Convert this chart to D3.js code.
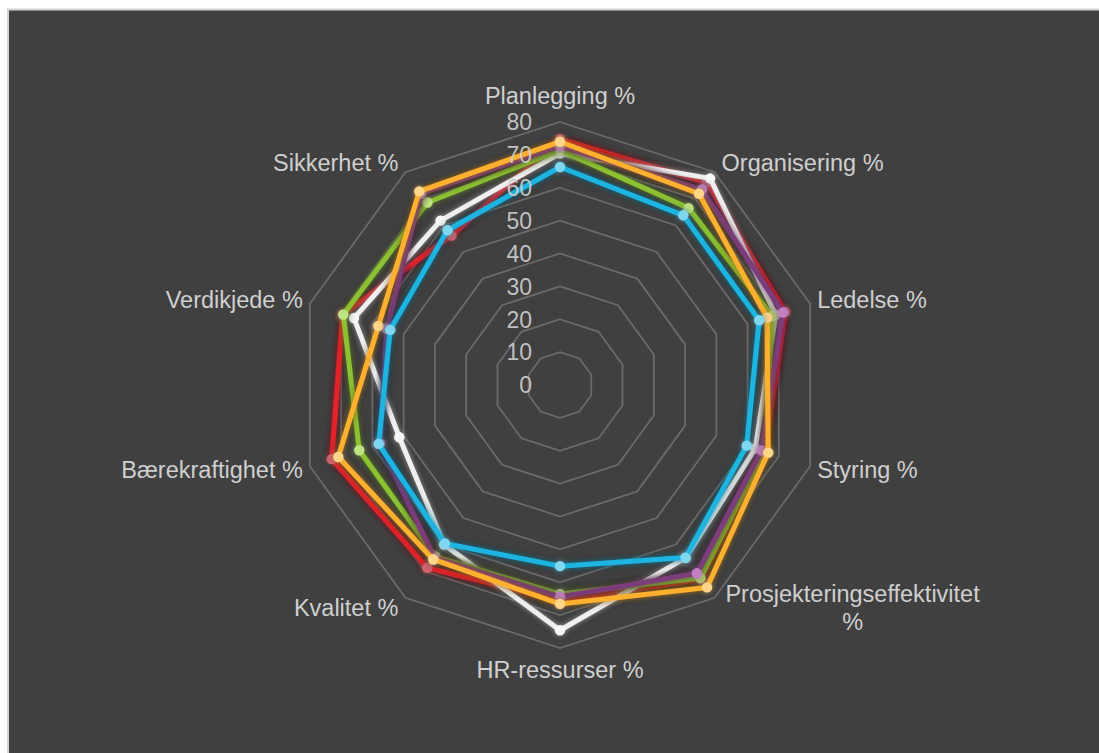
<!DOCTYPE html>
<html>
<head>
<meta charset="utf-8">
<script src="https://cdn.jsdelivr.net/npm/d3@7"></script>
<style>
  html, body { margin: 0; padding: 0; background: #ffffff; }
  svg { display: block; }
  text { font-family: "Liberation Sans", Arial, sans-serif; }
</style>
</head>
<body>
<svg id="chart" width="1099" height="753"></svg>
<script>
// Axis categories, clockwise from the top
const categories = [
  "Planlegging %", "Organisering %", "Ledelse %", "Styring %",
  "Prosjekteringseffektivitet %", "HR-ressurser %", "Kvalitet %",
  "Bærekraftighet %", "Verdikjede %", "Sikkerhet %"
];

// Radial axis tick labels
const ticks = [0, 10, 20, 30, 40, 50, 60, 70, 80];

// Series values, one per category
const seriesRed    = [74.8, 76.0, 72.0, 65.5, 73.0, 65.5, 68.7, 73.0, 69.5, 56.2];
const seriesWhite  = [70.5, 77.7, 69.0, 62.5, 65.0, 74.6, 60.0, 51.4, 65.9, 61.8];
const seriesGreen  = [71.5, 66.5, 67.8, 65.5, 72.6, 63.6, 64.5, 64.2, 69.3, 68.6];
const seriesPurple = [72.7, 73.5, 71.3, 64.5, 70.8, 64.5, 65.0, 57.6, 55.4, 72.0];
const seriesOrange = [74.0, 71.9, 66.2, 66.6, 76.1, 66.6, 65.6, 70.9, 58.1, 72.8];
const seriesBlue   = [66.3, 63.8, 63.7, 59.7, 64.9, 55.1, 59.6, 58.0, 54.3, 58.2];

// Drawing order: first entry sits at the bottom
const series = [
  { values: seriesRed,    line: "#e3222b", marker: "#d4646e" },
  { values: seriesWhite,  line: "#efefef", marker: "#f7f7f7" },
  { values: seriesGreen,  line: "#8cc230", marker: "#bde47f" },
  { values: seriesPurple, line: "#7d3d7b", marker: "#c27fc2" },
  { values: seriesOrange, line: "#ffb02e", marker: "#ffd58a" },
  { values: seriesBlue,   line: "#1fb5e2", marker: "#7dd7f0" }
];

const svg = d3.select("#chart");
const cx = 560, cy = 385, R = 263;

// Chart area
svg.append("rect")
  .attr("x", 8).attr("y", 9.5)
  .attr("width", 1100).attr("height", 760)
  .attr("fill", "#404040")
  .attr("stroke", "#d4d4d4").attr("stroke-width", 2);

// Soft shadow and glow under the series lines
const defs = svg.append("defs");
const f = defs.append("filter").attr("id", "shadow")
  .attr("x", "-20%").attr("y", "-20%").attr("width", "140%").attr("height", "140%");
f.append("feGaussianBlur").attr("in", "SourceAlpha").attr("stdDeviation", 3.5).attr("result", "blur");
f.append("feComponentTransfer").attr("in", "blur").attr("result", "shade")
  .append("feFuncA").attr("type", "linear").attr("slope", 0.85);
f.append("feGaussianBlur").attr("in", "SourceGraphic").attr("stdDeviation", 2.5).attr("result", "glow");
f.append("feComponentTransfer").attr("in", "glow").attr("result", "glowA")
  .append("feFuncA").attr("type", "linear").attr("slope", 0.35);
const m = f.append("feMerge");
m.append("feMergeNode").attr("in", "shade");
m.append("feMergeNode").attr("in", "glowA");
m.append("feMergeNode").attr("in", "SourceGraphic");

const r = d3.scaleLinear().domain([0, 80]).range([0, R]);
const angle = d3.scalePoint().domain(d3.range(categories.length))
  .range([0, 2 * Math.PI * (categories.length - 1) / categories.length]);

const pt = (i, v) => {
  const a = angle(i);
  return [cx + Math.sin(a) * r(v), cy - Math.cos(a) * r(v)];
};

// Grid rings
const g = svg.append("g");
ticks.filter(t => t > 0).forEach(t => {
  const pts = categories.map((_, i) => pt(i, t));
  g.append("path")
    .attr("d", d3.line()(pts) + "Z")
    .attr("fill", "none")
    .attr("stroke", "#6a6a6a")
    .attr("stroke-width", 1.8);
});

// Series lines and markers
const lineGen = d3.line();
series.forEach(s => {
  const pts = s.values.map((v, i) => pt(i, v));
  const grp = svg.append("g").attr("filter", "url(#shadow)");
  grp.append("path")
    .attr("d", lineGen(pts) + "Z")
    .attr("fill", "none")
    .attr("stroke", s.line)
    .attr("stroke-width", 5)
    .attr("stroke-linejoin", "round");
  grp.selectAll("circle").data(pts).join("circle")
    .attr("cx", d => d[0]).attr("cy", d => d[1])
    .attr("r", 5.2)
    .attr("fill", s.marker);
});

// Tick labels along the top axis, over the series
svg.append("g").selectAll("text").data(ticks).join("text")
  .attr("x", cx - 28)
  .attr("y", d => cy - r(d))
  .attr("dy", "0.36em")
  .attr("text-anchor", "end")
  .attr("font-size", 23)
  .attr("fill", "#cfcfcf")
  .attr("fill-opacity", 0.92)
  .text(d => d);

// Category labels
categories.forEach((c, i) => {
  const a = angle(i);
  const [vx, vy] = pt(i, 80);
  const sn = Math.sin(a), cs = Math.cos(a);
  let x, y, anchor;
  if (Math.abs(sn) < 1e-6) {
    x = vx; anchor = "middle";
    y = cs > 0 ? vy - 26 : vy + 22;
  } else {
    x = vx + (sn > 0 ? 7 : -7);
    anchor = sn > 0 ? "start" : "end";
    y = vy - 12 * cs;
  }
  const t = svg.append("text")
    .attr("font-size", 23.5)
    .attr("fill", "#cfcfcf")
    .attr("text-anchor", anchor);
  if (c.length > 20) {
    // long label wraps onto two centred lines
    const parts = c.split(" ");
    const lines = [parts.slice(0, -1).join(" "), parts[parts.length - 1]];
    const w = 262;
    const mid = anchor === "start" ? x + w / 2 : x - w / 2;
    t.attr("text-anchor", "middle");
    lines.forEach((ln, k) => {
      t.append("tspan")
        .attr("x", mid)
        .attr("y", y + (k - 0.5) * 28)
        .attr("dy", "0.36em")
        .text(ln);
    });
  } else {
    t.attr("x", x).attr("y", y).attr("dy", "0.36em").text(c);
  }
});
</script>
</body>
</html>
